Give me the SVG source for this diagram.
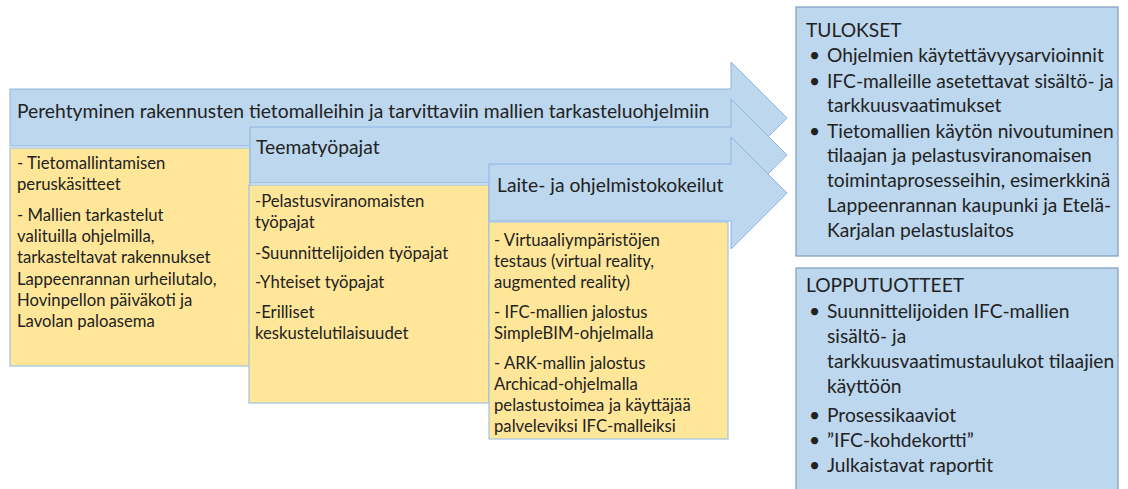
<svg xmlns="http://www.w3.org/2000/svg" width="1128" height="489" viewBox="0 0 1128 489">
  <style>
    text { font-family: Lato, "Open Sans", "Liberation Sans", sans-serif; fill: #222222; }
    .arrow { fill: #bdd7ee; stroke: #8db4e2; stroke-width: 1; }
    .note { fill: #ffe699; stroke: #9dc3e6; stroke-width: 1.2; }
    .panel { fill: #bdd7ee; stroke: #7f9cbf; stroke-width: 1.2; }
    .head { font-size: 19.3px; }
    .body { font-size: 16.7px; }
    .side { font-size: 19.2px; }
  </style>
  <rect width="1128" height="489" fill="#ffffff"/>

  <!-- stage 1: orientation -->
  <g id="stage1">
    <path class="arrow" d="M10,89 H731 V62 L787,118 L731,174 V146 H10 Z"/>
    <text class="head" x="17" y="118">Perehtyminen rakennusten tietomalleihin ja tarvittaviin mallien tarkasteluohjelmiin</text>
  </g>
  <g id="stage1-notes">
    <rect class="note" x="10" y="148" width="240" height="218"/>
    <text class="body" x="17" y="169">- Tietomallintamisen</text>
    <text class="body" x="17" y="190">peruskäsitteet</text>
    <text class="body" x="17" y="221">- Mallien tarkastelut</text>
    <text class="body" x="17" y="242">valituilla ohjelmilla,</text>
    <text class="body" x="17" y="263">tarkasteltavat rakennukset</text>
    <text class="body" x="17" y="285">Lappeenrannan urheilutalo,</text>
    <text class="body" x="17" y="306">Hovinpellon päiväkoti ja</text>
    <text class="body" x="17" y="327">Lavolan paloasema</text>
  </g>

  <!-- stage 2: theme workshops -->
  <g id="stage2">
    <path class="arrow" d="M250,127 H731 V99 L787,155 L731,211 V183 H250 Z"/>
    <text class="head" x="256" y="154">Teematyöpajat</text>
  </g>
  <g id="stage2-notes">
    <rect class="note" x="249" y="185" width="240" height="218"/>
    <text class="body" x="255" y="207">-Pelastusviranomaisten</text>
    <text class="body" x="255" y="228">työpajat</text>
    <text class="body" x="255" y="259">-Suunnittelijoiden työpajat</text>
    <text class="body" x="255" y="288">-Yhteiset työpajat</text>
    <text class="body" x="255" y="318">-Erilliset</text>
    <text class="body" x="255" y="339">keskustelutilaisuudet</text>
  </g>

  <!-- stage 3: device and software trials -->
  <g id="stage3">
    <path class="arrow" d="M489,164 H731 V137 L787,193 L731,249 V221 H489 Z"/>
    <text class="head" x="497" y="192">Laite- ja ohjelmistokokeilut</text>
  </g>
  <g id="stage3-notes">
    <rect class="note" x="489" y="222" width="239" height="217"/>
    <text class="body" x="494" y="246">- Virtuaaliympäristöjen</text>
    <text class="body" x="494" y="267">testaus (virtual reality,</text>
    <text class="body" x="494" y="288">augmented reality)</text>
    <text class="body" x="494" y="318">- IFC-mallien jalostus</text>
    <text class="body" x="494" y="339">SimpleBIM-ohjelmalla</text>
    <text class="body" x="494" y="369">- ARK-mallin jalostus</text>
    <text class="body" x="494" y="390">Archicad-ohjelmalla</text>
    <text class="body" x="494" y="411">pelastustoimea ja käyttäjää</text>
    <text class="body" x="494" y="432">palveleviksi IFC-malleiksi</text>
  </g>

  <!-- results panel -->
  <g id="results">
    <rect class="panel" x="796" y="7" width="322" height="249"/>
    <text class="side" x="806" y="37">TULOKSET</text>
    <text class="side" x="809" y="62">•</text>
    <text class="side" x="827" y="62">Ohjelmien käytettävyysarvioinnit</text>
    <text class="side" x="809" y="88">•</text>
    <text class="side" x="827" y="88">IFC-malleille asetettavat sisältö- ja</text>
    <text class="side" x="827" y="112">tarkkuusvaatimukset</text>
    <text class="side" x="809" y="138">•</text>
    <text class="side" x="827" y="138">Tietomallien käytön nivoutuminen</text>
    <text class="side" x="827" y="162">tilaajan ja pelastusviranomaisen</text>
    <text class="side" x="827" y="187">toimintaprosesseihin, esimerkkinä</text>
    <text class="side" x="827" y="212">Lappeenrannan kaupunki ja Etelä-</text>
    <text class="side" x="827" y="237">Karjalan pelastuslaitos</text>
  </g>

  <!-- deliverables panel -->
  <g id="deliverables">
    <rect class="panel" x="796" y="268" width="322" height="230"/>
    <text class="side" x="806" y="292">LOPPUTUOTTEET</text>
    <text class="side" x="809" y="318">•</text>
    <text class="side" x="827" y="318">Suunnittelijoiden IFC-mallien</text>
    <text class="side" x="827" y="343">sisältö- ja</text>
    <text class="side" x="827" y="368">tarkkuusvaatimustaulukot tilaajien</text>
    <text class="side" x="827" y="393">käyttöön</text>
    <text class="side" x="809" y="422">•</text>
    <text class="side" x="827" y="422">Prosessikaaviot</text>
    <text class="side" x="809" y="447">•</text>
    <text class="side" x="827" y="447">”IFC-kohdekortti”</text>
    <text class="side" x="809" y="472">•</text>
    <text class="side" x="827" y="472">Julkaistavat raportit</text>
  </g>
</svg>
